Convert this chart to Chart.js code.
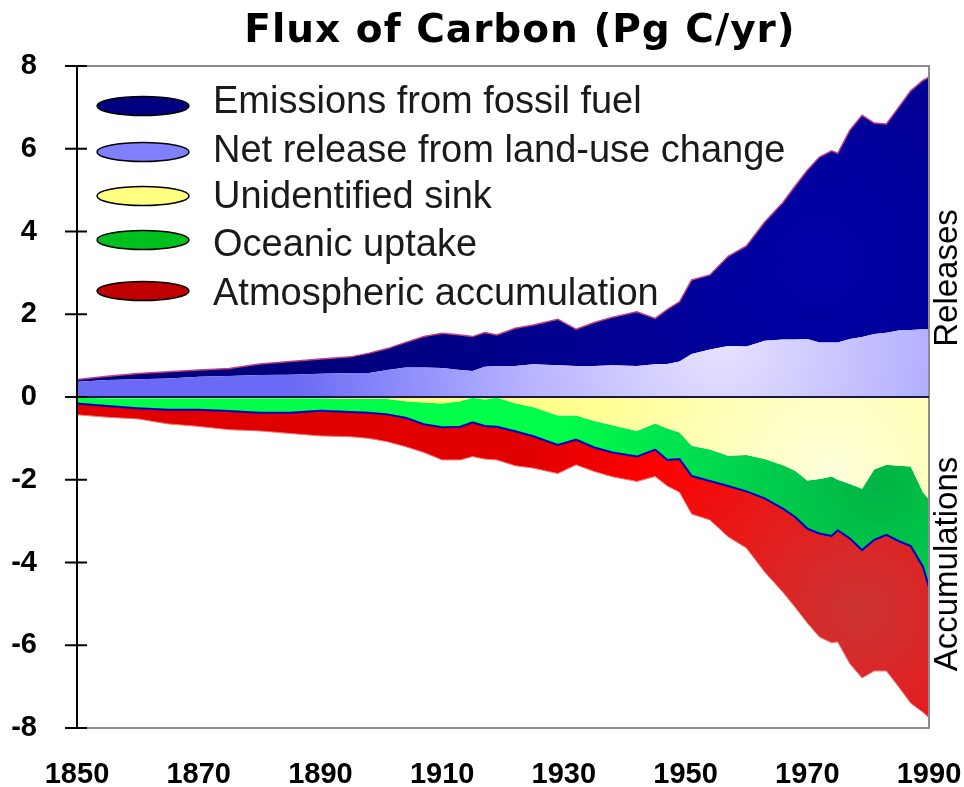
<!DOCTYPE html>
<html>
<head>
<meta charset="utf-8">
<script src="https://cdn.jsdelivr.net/npm/chart.js@4.4.1/dist/chart.umd.min.js"></script>
<style>
  html, body { margin: 0; padding: 0; background: #fff; }
  #wrap { width: 964px; height: 787px; position: relative; }
</style>
</head>
<body>
<div id="wrap"><canvas id="chartFlux"></canvas></div>
<script>
// Data (Pg C/yr)
const years = [1850, 1855, 1860, 1865, 1870, 1875, 1880, 1885, 1890, 1895,
    1898, 1901, 1904, 1907, 1910, 1913, 1915, 1917, 1919,
    1922, 1925, 1929, 1932, 1935, 1938, 1942, 1945, 1947, 1949, 1951, 1954,
    1957, 1960, 1963, 1966, 1968, 1970, 1972, 1974, 1975, 1977, 1979,
    1981, 1983, 1985, 1987, 1989, 1990];

const landUse = [0.37, 0.41, 0.43, 0.45, 0.49, 0.51, 0.53, 0.54, 0.56, 0.58,
    0.58, 0.65, 0.71, 0.71, 0.70, 0.65, 0.63, 0.73, 0.75,
    0.75, 0.79, 0.77, 0.75, 0.75, 0.77, 0.75, 0.79, 0.80, 0.86, 1.04, 1.15,
    1.23, 1.22, 1.36, 1.39, 1.39, 1.40, 1.32, 1.32, 1.32, 1.40, 1.45,
    1.52, 1.55, 1.61, 1.62, 1.64, 1.64];

const fossilFuel = [0.05, 0.09, 0.14, 0.16, 0.16, 0.18, 0.27, 0.32, 0.36, 0.39,
    0.48, 0.52, 0.61, 0.75, 0.84, 0.85, 0.83, 0.83, 0.75,
    0.91, 0.95, 1.11, 0.89, 1.05, 1.16, 1.31, 1.11, 1.32, 1.44, 1.79, 1.80,
    2.17, 2.43, 2.87, 3.31, 3.71, 4.08, 4.48, 4.63, 4.57, 5.05, 5.36,
    5.10, 5.05, 5.39, 5.78, 6.01, 6.09];

const unidentifiedSink = [-0.02, -0.03, -0.03, -0.03, -0.03, -0.03, -0.03, -0.03, -0.03, -0.05,
    -0.05, -0.05, -0.10, -0.13, -0.16, -0.10, -0.02, -0.06, -0.02,
    -0.15, -0.25, -0.45, -0.45, -0.58, -0.68, -0.82, -0.64, -0.76, -0.86, -1.18, -1.27,
    -1.42, -1.40, -1.50, -1.65, -1.78, -2.02, -1.98, -1.92, -2.00, -2.10, -2.22,
    -1.75, -1.64, -1.66, -1.68, -2.30, -2.48];

const oceanicUptake = [-0.14, -0.19, -0.24, -0.28, -0.28, -0.31, -0.35, -0.35, -0.30, -0.31,
    -0.33, -0.37, -0.40, -0.53, -0.57, -0.62, -0.59, -0.64, -0.70,
    -0.68, -0.70, -0.71, -0.58, -0.64, -0.66, -0.62, -0.63, -0.76, -0.64, -0.73, -0.76,
    -0.73, -0.88, -0.95, -1.05, -1.12, -1.16, -1.32, -1.44, -1.22, -1.32, -1.48,
    -1.70, -1.69, -1.82, -1.92, -1.80, -2.11];

const atmosphericAccumulation = [-0.27, -0.27, -0.26, -0.34, -0.40, -0.45, -0.44, -0.50, -0.61, -0.60,
    -0.62, -0.66, -0.70, -0.68, -0.79, -0.80, -0.83, -0.80, -0.80,
    -0.83, -0.77, -0.69, -0.61, -0.58, -0.59, -0.60, -0.65, -0.63, -0.80, -0.92, -0.94,
    -1.23, -1.37, -1.78, -2.02, -2.18, -2.28, -2.50, -2.58, -2.70, -3.03, -3.09,
    -3.17, -3.29, -3.52, -3.80, -3.52, -3.16];

const legendLabels = [
    'Emissions from fossil fuel',
    'Net release from land-use change',
    'Unidentified sink',
    'Oceanic uptake',
    'Atmospheric accumulation'
];
const legendColors = ['#000080', '#8080ff', '#ffff80', '#00c020', '#c00000'];

const xTicks = [1850, 1870, 1890, 1910, 1930, 1950, 1970, 1990];
const yTicks = [-8, -6, -4, -2, 0, 2, 4, 6, 8];

const tickFont = { family: "'Liberation Sans Narrow', 'Liberation Sans', Arial, sans-serif", weight: 'bold', size: 29 };

// Radial gradient fills
const radial = (cx, cy, r, stops) => (context) => {
    const g = context.chart.ctx.createRadialGradient(cx, cy, 0, cx, cy, r);
    stops.forEach(([o, c]) => g.addColorStop(o, c));
    return g;
};

const toPoints = (values) => values.map((v, i) => ({ x: years[i], y: v }));

const areaSeries = (label, values, fill, background, border, borderWidth) => ({
    label,
    data: toPoints(values),
    fill,
    backgroundColor: background,
    borderColor: border,
    borderWidth,
    pointRadius: 0,
    tension: 0
});

// Legend, title, frame and side labels
const decorPlugin = {
    id: 'decor',
    afterDraw(chart) {
        const { ctx, chartArea: a, scales: { y } } = chart;
        ctx.save();

        // frame
        ctx.strokeStyle = '#8c8c8c';
        ctx.lineWidth = 2;
        ctx.beginPath();
        ctx.moveTo(a.left, a.top);
        ctx.lineTo(a.right, a.top);
        ctx.lineTo(a.right, a.bottom);
        ctx.lineTo(a.left, a.bottom);
        ctx.stroke();

        // zero line
        const y0 = y.getPixelForValue(0);
        ctx.strokeStyle = '#1a1a40';
        ctx.lineWidth = 2;
        ctx.beginPath();
        ctx.moveTo(a.left, y0);
        ctx.lineTo(a.right, y0);
        ctx.stroke();

        // left axis with crossing ticks
        ctx.strokeStyle = '#000';
        ctx.lineWidth = 2;
        ctx.beginPath();
        ctx.moveTo(a.left, a.top);
        ctx.lineTo(a.left, a.bottom);
        yTicks.forEach(v => {
            const py = y.getPixelForValue(v);
            ctx.moveTo(a.left - 12, py);
            ctx.lineTo(a.left + 10, py);
        });
        ctx.stroke();

        // title
        ctx.fillStyle = '#000';
        ctx.font = "bold 39px 'DejaVu Sans', Verdana, sans-serif";
        ctx.letterSpacing = '1px';
        ctx.textAlign = 'center';
        ctx.textBaseline = 'alphabetic';
        ctx.fillText('Flux of Carbon (Pg C/yr)', 520, 42);
        ctx.letterSpacing = '0px';

        // legend
        const ellipseY = [106, 152, 196, 240, 291];
        const textY = [113, 162, 208, 256, 305];
        ctx.font = "38px 'Liberation Sans', Arial, sans-serif";
        ctx.textAlign = 'left';
        legendLabels.forEach((label, i) => {
            ctx.beginPath();
            ctx.ellipse(143, ellipseY[i], 46, 9.5, 0, 0, Math.PI * 2);
            ctx.fillStyle = legendColors[i];
            ctx.fill();
            ctx.strokeStyle = '#000';
            ctx.lineWidth = 1.5;
            ctx.stroke();
            ctx.fillStyle = '#1a1a1a';
            ctx.fillText(label, 213, textY[i]);
        });

        // side labels
        ctx.font = "33px 'Liberation Sans', Arial, sans-serif";
        ctx.fillStyle = '#000';
        ctx.textAlign = 'center';
        ctx.textBaseline = 'middle';
        [['Releases', 278], ['Accumulations', 564]].forEach(([t, cy]) => {
            ctx.save();
            ctx.translate(948, cy);
            ctx.rotate(-Math.PI / 2);
            ctx.fillText(t, 0, 0);
            ctx.restore();
        });

        ctx.restore();
    }
};

new Chart(document.getElementById('chartFlux'), {
    type: 'line',
    data: {
        datasets: [
            areaSeries(legendLabels[1], landUse, 'origin',
                radial(720, 345, 430, [[0, '#e6e2ff'], [0.45, '#b8b4ff'], [1, '#6a6af4']]),
                'rgba(0,0,0,0)', 1),
            areaSeries(legendLabels[0], fossilFuel, '-1',
                radial(820, 260, 500, [[0, '#0000a6'], [1, '#00007c']]),
                '#c8407a', 1.5),
            areaSeries(legendLabels[2], unidentifiedSink, 'origin',
                radial(830, 470, 300, [[0, '#ffffda'], [1, '#ffff84']]),
                'rgba(0,0,0,0)', 1),
            areaSeries(legendLabels[3], oceanicUptake, '-1',
                radial(880, 485, 330, [[0, '#00b444'], [0.6, '#00e050'], [1, '#00ff48']]),
                '#0000c8', 2),
            areaSeries(legendLabels[4], atmosphericAccumulation, '-1',
                radial(860, 610, 360, [[0, '#cc3434'], [0.4, '#e81818'], [0.7, '#ff0000'], [1, '#e00000']]),
                '#ff7070', 1)
        ]
    },
    options: {
        responsive: true,
        maintainAspectRatio: false,
        animation: false,
        layout: { padding: { top: 66, right: 35, left: 0, bottom: 0 } },
        plugins: {
            legend: { display: false },
            title: { display: false },
            tooltip: { enabled: false }
        },
        scales: {
            x: {
                type: 'linear',
                min: 1850,
                max: 1990,
                afterFit: s => { s.height = 59; s.paddingLeft = 0; s.paddingRight = 0; },
                afterBuildTicks: s => { s.ticks = xTicks.map(v => ({ value: v })); },
                grid: { display: false, drawTicks: false },
                border: { display: false },
                ticks: { font: tickFont, color: '#000', padding: 30, maxRotation: 0, callback: v => String(v) }
            },
            y: {
                min: -8,
                max: 8,
                stacked: true,
                afterFit: s => { s.width = 77; s.paddingTop = 0; s.paddingBottom = 0; },
                afterBuildTicks: s => { s.ticks = yTicks.map(v => ({ value: v })); },
                grid: { display: false, drawTicks: false },
                border: { display: false },
                ticks: { font: tickFont, color: '#000', padding: 40 }
            }
        }
    },
    plugins: [decorPlugin]
});
</script>
</body>
</html>
